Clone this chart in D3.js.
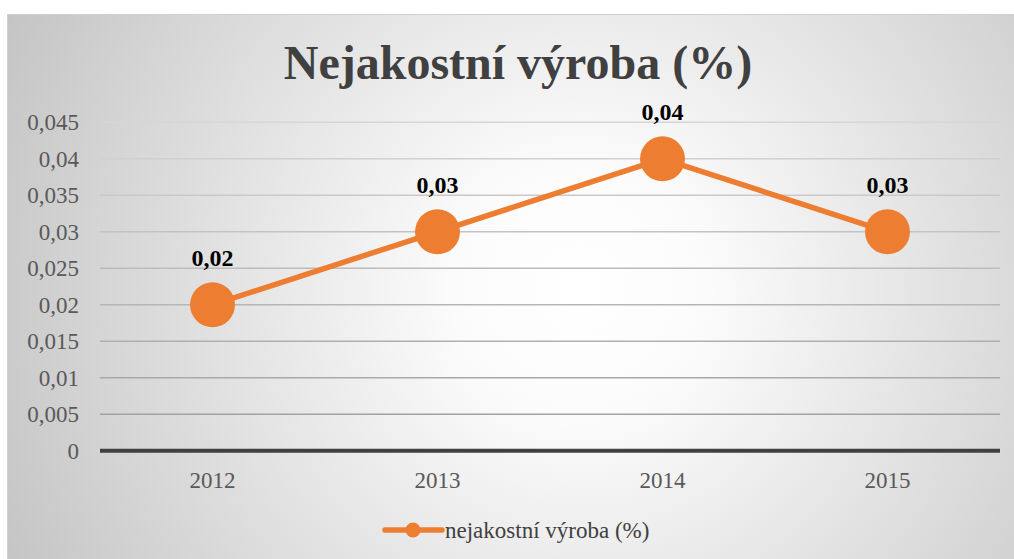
<!DOCTYPE html>
<html>
<head>
<meta charset="utf-8">
<script src="https://cdn.jsdelivr.net/npm/d3@7"></script>
<style>
  html, body { margin: 0; padding: 0; background: #fff; }
  svg text { font-family: "Liberation Serif", "Times New Roman", Times, serif; }
</style>
</head>
<body>
<div id="chart"></div>
<script>
// chart data
const years = ["2012", "2013", "2014", "2015"];
const values = [0.02, 0.03, 0.04, 0.03];
const valueLabels = ["0,02", "0,03", "0,04", "0,03"];
const yTicks = [0, 0.005, 0.01, 0.015, 0.02, 0.025, 0.03, 0.035, 0.04, 0.045];
const title = "Nejakostní výroba (%)";
const seriesName = "nejakostní výroba (%)";

const W = 1014, H = 559;
const orange = "#ED7D31";
const serif = "'Liberation Serif', 'Times New Roman', serif";

const svg = d3.select("#chart").append("svg")
    .attr("width", W)
    .attr("height", H);

// background gradient like the office chart style
const defs = svg.append("defs");
const grad = defs.append("radialGradient")
    .attr("id", "bg")
    .attr("gradientUnits", "userSpaceOnUse")
    .attr("cx", 580).attr("cy", 290).attr("r", 640);
grad.append("stop").attr("offset", "0%").attr("stop-color", "#ffffff");
grad.append("stop").attr("offset", "20%").attr("stop-color", "#fbfbfb");
grad.append("stop").attr("offset", "100%").attr("stop-color", "#c4c4c4");

svg.append("rect")
    .attr("x", 7.5).attr("y", 14.5)
    .attr("width", W).attr("height", H)
    .attr("fill", "url(#bg)")
    .attr("stroke", "#d0d0d0");

const x = d3.scaleBand().domain(years).range([100, 1000]);
const y = d3.scaleLinear().domain([0, 0.045]).range([450.7, 122.3]);

// gridlines get a bit darker toward the bottom
const gridColor = d3.scaleLinear().domain([0, 0.045]).range(["#9c9c9c", "#d6d6d6"]);

svg.append("g")
  .selectAll("line")
  .data(yTicks.filter(d => d > 0))
  .join("line")
    .attr("x1", 100).attr("x2", 1000)
    .attr("y1", d => y(d)).attr("y2", d => y(d))
    .attr("stroke", d => gridColor(d))
    .attr("stroke-width", 1.5);

// y axis labels
const fmt = d => d === 0 ? "0" : String(d).replace(".", ",");
svg.append("g")
  .selectAll("text")
  .data(yTicks)
  .join("text")
    .attr("x", 79)
    .attr("y", d => y(d))
    .attr("dy", "0.34em")
    .attr("text-anchor", "end")
    .attr("font-family", serif)
    .attr("font-size", 23)
    .attr("fill", "#595959")
    .text(fmt);

// x axis line
svg.append("line")
    .attr("x1", 100).attr("x2", 1000)
    .attr("y1", y(0)).attr("y2", y(0))
    .attr("stroke", "#404040")
    .attr("stroke-width", 4);

svg.append("g")
  .selectAll("text")
  .data(years)
  .join("text")
    .attr("x", d => x(d) + x.bandwidth() / 2)
    .attr("y", 488)
    .attr("text-anchor", "middle")
    .attr("font-family", serif)
    .attr("font-size", 23)
    .attr("fill", "#595959")
    .text(d => d);

// series line
const line = d3.line()
    .x((d, i) => x(years[i]) + x.bandwidth() / 2)
    .y(d => y(d));

svg.append("path")
    .datum(values)
    .attr("d", line)
    .attr("fill", "none")
    .attr("stroke", orange)
    .attr("stroke-width", 5.5)
    .attr("stroke-linejoin", "round");

svg.append("g")
  .selectAll("circle")
  .data(values)
  .join("circle")
    .attr("cx", (d, i) => x(years[i]) + x.bandwidth() / 2)
    .attr("cy", d => y(d))
    .attr("r", 22.5)
    .attr("fill", orange);

svg.append("g")
  .selectAll("text")
  .data(values)
  .join("text")
    .attr("x", (d, i) => x(years[i]) + x.bandwidth() / 2)
    .attr("y", d => y(d) - 39)
    .attr("text-anchor", "middle")
    .attr("font-family", serif)
    .attr("font-size", 24)
    .attr("font-weight", "bold")
    .attr("fill", "#000")
    .text((d, i) => valueLabels[i]);

// title
svg.append("text")
    .attr("x", 518)
    .attr("y", 79)
    .attr("text-anchor", "middle")
    .attr("font-family", serif)
    .attr("font-size", 48)
    .attr("font-weight", "bold")
    .attr("fill", "#404040")
    .text(title);

// legend
const lg = svg.append("g").attr("transform", "translate(385,530)");
lg.append("line")
    .attr("x1", 0).attr("x2", 57)
    .attr("y1", 0).attr("y2", 0)
    .attr("stroke", orange)
    .attr("stroke-width", 5.5)
    .attr("stroke-linecap", "round");
lg.append("circle")
    .attr("cx", 28).attr("cy", 0).attr("r", 7.5)
    .attr("fill", orange);
lg.append("text")
    .attr("x", 60)
    .attr("y", 0)
    .attr("dy", "0.34em")
    .attr("font-family", serif)
    .attr("font-size", 23)
    .attr("fill", "#404040")
    .text(seriesName);
</script>
</body>
</html>
